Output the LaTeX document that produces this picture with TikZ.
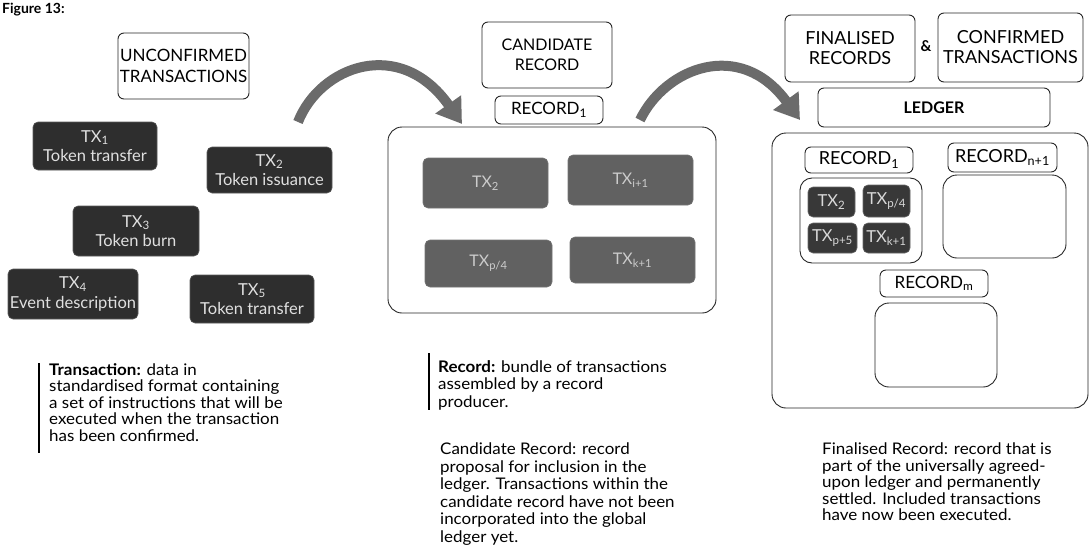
\documentclass[tikz,border=0pt]{standalone}
\usepackage{fontspec}
\setmainfont{Lato}
\newfontfamily\notefont[FakeStretch=1.06]{Lato}
\usetikzlibrary{arrows.meta}

\tikzset{
  lbl/.style={draw=black!85, line width=0.9pt, rounded corners=6pt, align=center,
    font=\fontsize{17}{20}\selectfont, inner sep=0pt},
  txdark/.style={fill=black!82, draw=black!65, line width=0.6pt, rounded corners=5pt,
    text=white!88!black, align=center, font=\fontsize{16.5}{19.5}\selectfont, inner sep=0pt},
  txmid/.style={fill=black!62, draw=black!55, line width=0.6pt, rounded corners=5pt,
    text=white!80!black, align=center, font=\fontsize{16}{18}\selectfont, inner sep=0pt},
  txsmall/.style={fill=black!78, draw=black!60, line width=0.6pt, rounded corners=5pt,
    text=white!85!black, align=center, font=\fontsize{16.5}{18}\selectfont, inner sep=0pt},
  frame/.style={draw=black!85, line width=0.9pt, rounded corners=14pt},
  note/.style={anchor=north west, align=left, inner sep=0pt,
    font=\notefont\fontsize{16}{16.5}\selectfont},
  notebar/.style={draw=black, line width=1.1pt},
  bigarrow/.style={draw=black!58, line width=10pt,
    -{Triangle[width=30pt,length=24pt]}},
}

\begin{document}
\begin{tikzpicture}[x=1pt,y=-1pt]
\useasboundingbox (0,0) rectangle (1090,549);

% figure caption
\node[anchor=base west, inner sep=0pt, font=\bfseries\fontsize{14}{16}\selectfont] (caption) at (2,13) {Figure 13:};

% ---------- unconfirmed transactions ----------
\node[lbl, minimum width=131pt, minimum height=66pt, font=\fontsize{17}{21}\selectfont] (unconf) at (183.5,66) {UNCONFIRMED\\TRANSACTIONS};

\node[txdark, minimum width=124pt, minimum height=48pt] (tx1) at (95,146) {TX\textsubscript{1}\\Token transfer};
\node[txdark, minimum width=125pt, minimum height=46pt] (tx2) at (269.5,170) {TX\textsubscript{2}\\Token issuance};
\node[txdark, minimum width=126pt, minimum height=50pt] (tx3) at (136,231) {TX\textsubscript{3}\\Token burn};
\node[txdark, minimum width=130pt, minimum height=50pt] (tx4) at (73,294) {TX\textsubscript{4}\\Event description};
\node[txdark, minimum width=124pt, minimum height=48pt] (tx5) at (252,299) {TX\textsubscript{5}\\Token transfer};

\draw[notebar] (39,363) coordinate (tbar1) -- (39,453) coordinate (tbar2);
\node[note] (txnote) at (49,363) {\textbf{Transaction:} data in\\standardised format containing\\a set of instructions that will be\\executed when the transaction\\has been confirmed.};

% ---------- candidate record ----------
\node[lbl, minimum width=130pt, minimum height=66pt, font=\fontsize{16}{20}\selectfont] (cand) at (547,55) {CANDIDATE\\RECORD};
\node[lbl, minimum width=108pt, minimum height=28pt] (rec1) at (549,110) {RECORD\textsubscript{1}};
\draw[frame] (388,127) rectangle (716,313);
\node[txmid, minimum width=125pt, minimum height=50pt] (ma) at (485.5,183) {TX\textsubscript{2}};
\node[txmid, minimum width=125pt, minimum height=50pt] (mb) at (630.5,180) {TX\textsubscript{i+1}};
\node[txmid, minimum width=127pt, minimum height=47pt] (mc) at (488.5,263.5) {TX\textsubscript{p/4}};
\node[txmid, minimum width=125pt, minimum height=46pt] (md) at (632.5,260) {TX\textsubscript{k+1}};

\draw[notebar] (429,353) coordinate (rbar1) -- (429,410) coordinate (rbar2);
\node[note, font=\notefont\fontsize{16}{17.5}\selectfont] (recnote) at (438,360) {\textbf{Record:} bundle of transactions\\assembled by a record\\producer.};
\node[note, font=\notefont\fontsize{16}{17.5}\selectfont] (candnote) at (440,443) {Candidate Record: record\\proposal for inclusion in the\\ledger. Transactions within the\\candidate record have not been\\incorporated into the global\\ledger yet.};

% ---------- ledger ----------
\node[lbl, minimum width=130pt, minimum height=67pt, font=\fontsize{18}{20}\selectfont] (fin) at (850,48.5) {FINALISED\\RECORDS};
\node[inner sep=0pt, font=\bfseries\fontsize{15}{16}\selectfont] (amp) at (926,46) {\&};
\node[lbl, minimum width=145pt, minimum height=69pt, font=\fontsize{18}{20}\selectfont] (conf) at (1010.5,47.5) {CONFIRMED\\TRANSACTIONS};
\node[lbl, minimum width=232pt, minimum height=39pt, font=\bfseries\fontsize{16}{18}\selectfont] (ledger) at (934,107.5) {LEDGER};
\draw[frame] (772,133) rectangle (1088,408);

\node[lbl, minimum width=108pt, minimum height=26pt, font=\fontsize{18}{20}\selectfont] (lr1) at (859,160) {RECORD\textsubscript{1}};
\node[lbl, minimum width=109pt, minimum height=29pt, font=\fontsize{18}{20}\selectfont] (lrn) at (1002.5,157.5) {RECORD\textsubscript{n+1}};
\node[lbl, minimum width=122pt, minimum height=85pt, rounded corners=12pt] (lr1box) at (861,220.5) {};
\node[txsmall, minimum width=47pt, minimum height=30pt] (sa) at (831.5,202) {TX\textsubscript{2}};
\node[txsmall, minimum width=47pt, minimum height=32pt] (sb) at (886.5,201) {TX\textsubscript{p/4}};
\node[txsmall, minimum width=49pt, minimum height=30pt] (sc) at (832.5,238) {TX\textsubscript{p+5}};
\node[txsmall, minimum width=47pt, minimum height=30pt] (sd) at (886.5,238) {TX\textsubscript{k+1}};
\node[lbl, minimum width=123pt, minimum height=83pt, rounded corners=14pt] (lrnbox) at (1004.5,216.5) {};
\node[lbl, minimum width=108pt, minimum height=27pt] (lrm) at (934,283.5) {RECORD\textsubscript{m}};
\node[lbl, minimum width=122pt, minimum height=84pt, rounded corners=14pt] (lrmbox) at (936,345) {};

\node[note] (finnote) at (822,443) {Finalised Record: record that is\\part of the universally agreed-\\upon ledger and permanently\\settled. Included transactions\\have now been executed.};

% ---------- flow arrows ----------
\coordinate (a1s) at (298,122);
\coordinate (a1e) at (462,124);
\coordinate (a2s) at (640,120);
\coordinate (a2e) at (800,120);
\draw[bigarrow] (a1s) .. controls (320,66) and (400,36) .. (a1e);
\draw[bigarrow] (a2s) .. controls (665,68) and (740,38) .. (a2e);
\end{tikzpicture}
\end{document}
